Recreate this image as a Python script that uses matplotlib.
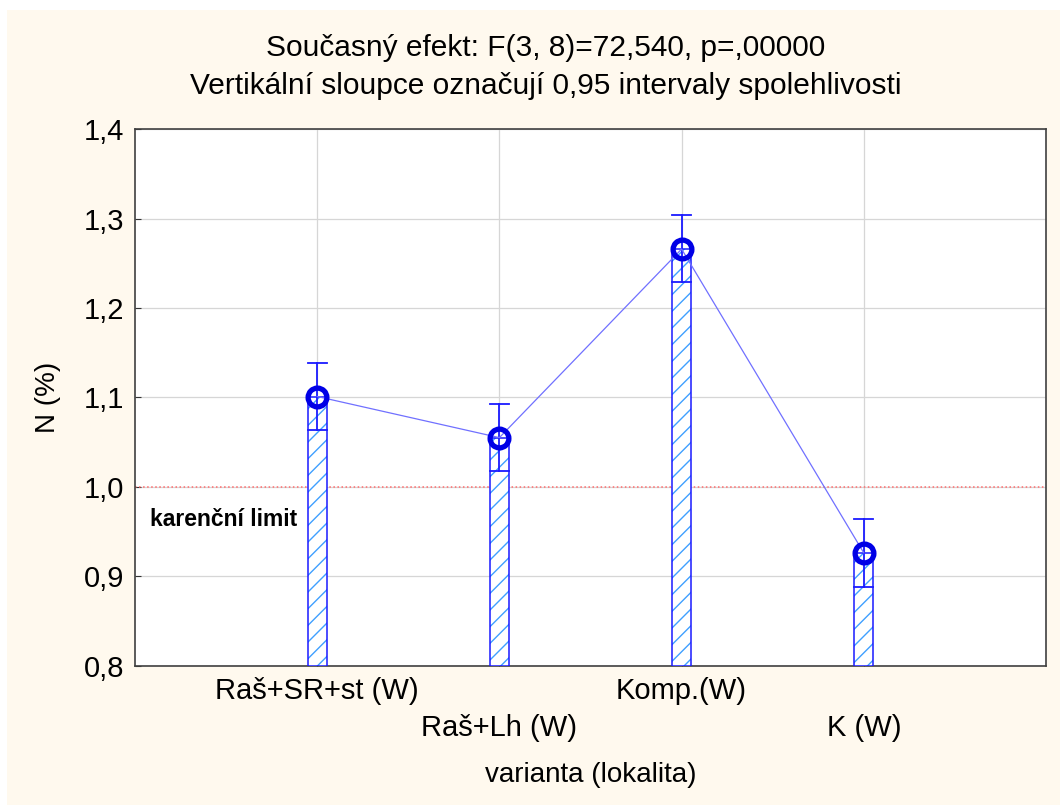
import matplotlib.pyplot as plt
from matplotlib.patches import Rectangle
import numpy as np

plt.rcParams['font.family'] = ['Liberation Sans', 'DejaVu Sans']

# data
categories = ['Raš+SR+st (W)', 'Raš+Lh (W)', 'Komp.(W)', 'K (W)']
means = [1.101, 1.055, 1.266, 0.926]
ci_low = [1.063, 1.018, 1.229, 0.888]
ci_high = [1.139, 1.093, 1.304, 0.964]
yticks = [0.8, 0.9, 1.0, 1.1, 1.2, 1.3, 1.4]
limit = 1.0

title1 = 'Současný efekt: F(3, 8)=72,540, p=,00000'
title2 = 'Vertikální sloupce označují 0,95 intervaly spolehlivosti'

cream = '#FFF9EE'
blue = '#1a1aff'

fig = plt.figure(figsize=(10.6, 8.05), dpi=100, facecolor='white')
fig.patches.append(Rectangle((7 / 1060, 0), 1, (805 - 10) / 805,
                             transform=fig.transFigure, facecolor=cream,
                             edgecolor='none', zorder=-10))
ax = fig.add_axes([135 / 1060, (805 - 665.5) / 805, 911 / 1060, 536.2 / 805])
ax.set_facecolor('white')

x = np.arange(1, len(categories) + 1)
bw = 0.105
base = yticks[0]

# hatched bars
ax.bar(x, np.array(means) - base, bottom=base, width=bw, facecolor='white',
       edgecolor='#3fa0ff', hatch='//', linewidth=0, zorder=3)
ax.bar(x, np.array(means) - base, bottom=base, width=bw, facecolor='none',
       edgecolor=blue, linewidth=1.1, zorder=4)

# confidence intervals
for xi, lo, hi in zip(x, ci_low, ci_high):
    ax.plot([xi, xi], [lo, hi], color=blue, lw=1.3, zorder=5)
    ax.plot([xi - bw / 2, xi + bw / 2], [hi, hi], color=blue, lw=1.3, zorder=5)
    ax.plot([xi - bw / 2, xi + bw / 2], [lo, lo], color=blue, lw=1.3, zorder=5)

# means
ax.plot(x, means, color='#7070ff', lw=0.9, zorder=6)
ax.plot(x, means, linestyle='none', marker='o', ms=13.5, mew=3.8,
        mfc='none', mec='#0000e6', zorder=7)

ax.axhline(limit, color='#ff6b6b', lw=1.1, linestyle=':', zorder=2)
ax.text(0.08, 0.963, 'karenční limit', fontsize=16.5, fontweight='bold',
        ha='left', va='center', zorder=8)

ax.set_xlim(0, 5)
ax.set_ylim(0.8, 1.4)
ax.set_yticks(yticks)
ax.set_yticklabels([f'{v:.1f}'.replace('.', ',') for v in yticks], fontsize=21)
ax.set_xticks(x)
ax.set_xticklabels(categories, fontsize=21)
for i, t in enumerate(ax.xaxis.get_major_ticks()):
    t.set_pad(8 if i % 2 == 0 else 35)
ax.tick_params(axis='both', direction='in', length=4, color='#333333')
ax.tick_params(axis='y', pad=8)

ax.grid(True, color='#d6d6d6', lw=0.9, zorder=0)
ax.set_axisbelow(True)
for s in ax.spines.values():
    s.set_color('#404040')
    s.set_linewidth(1.2)

ax.set_ylabel('N (%)', fontsize=20, labelpad=16)
ax.set_xlabel('varianta (lokalita)', fontsize=20, labelpad=14)

fig.text(0.515, 1 - 48 / 805, title1, fontsize=21.5, ha='center', va='center')
fig.text(0.515, 1 - 86 / 805, title2, fontsize=21.5, ha='center', va='center')

fig.savefig('out.png', dpi=100, facecolor=fig.get_facecolor())
